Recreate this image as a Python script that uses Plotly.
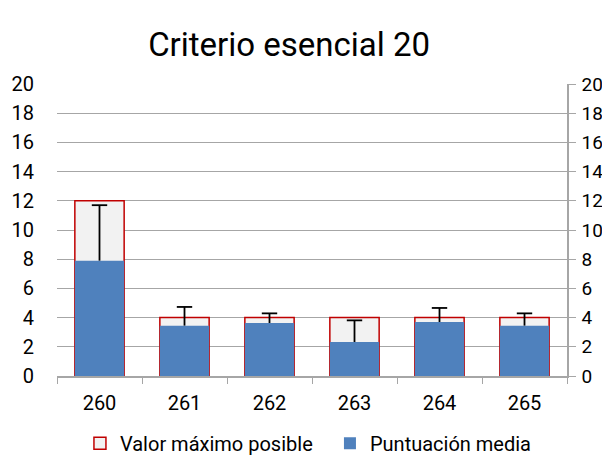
import plotly.graph_objects as go

categories = ["260", "261", "262", "263", "264", "265"]
max_values = [12, 4, 4, 4, 4, 4]
mean_values = [7.9, 3.45, 3.63, 2.33, 3.7, 3.45]
error_top = [11.7, 4.73, 4.29, 3.81, 4.66, 4.29]
y_ticks = [0, 2, 4, 6, 8, 10, 12, 14, 16, 18, 20]

FONT = "Roboto, sans-serif"
err_plus = [t - m for t, m in zip(error_top, mean_values)]

fig = go.Figure()
fig.add_trace(go.Bar(
    x=categories, y=max_values, name="Valor máximo posible",
    marker=dict(color="#f2f2f2", line=dict(color="#c00000", width=1.5)),
    width=0.58,
))
fig.add_trace(go.Bar(
    x=categories, y=mean_values, name="Puntuación media",
    marker=dict(color="#4f81bd", line=dict(width=0)),
    width=0.58,
    error_y=dict(type="data", symmetric=False, array=err_plus,
                 arrayminus=[0] * len(err_plus), color="black", thickness=1.8, width=0),
))
fig.add_trace(go.Scatter(
    x=categories, y=error_top, mode="markers", yaxis="y2", showlegend=False,
    marker=dict(symbol="line-ew", size=11, line=dict(color="black", width=1.8)),
    hoverinfo="skip",
))

fig.update_layout(
    width=602, height=455,
    margin=dict(l=49, r=43, t=76, b=87, autoexpand=False),
    paper_bgcolor="white", plot_bgcolor="white",
    barmode="overlay",
    font=dict(family=FONT, color="black", size=20),
    title=dict(text="Criterio esencial 20", x=0.467, xanchor="center", y=0.919, yanchor="middle",
               font=dict(family=FONT, size=33, color="black")),
    showlegend=True,
    legend=dict(orientation="h", x=0.045, xanchor="left", y=-0.297, yanchor="bottom",
                font=dict(family=FONT, size=20), itemwidth=30, traceorder="normal",
                tracegroupgap=0, entrywidth=205, entrywidthmode="pixels"),
    xaxis=dict(showgrid=False, showline=True, linecolor="#a6a6a6", linewidth=1.5,
               ticks="outside", tickson="boundaries", ticklen=6, tickcolor="#a6a6a6",
               ticklabelstandoff=8, tickfont=dict(size=20), automargin=False),
    yaxis=dict(range=[0, 20], tickvals=y_ticks, showgrid=True, gridcolor="#a6a6a6",
               gridwidth=1.2, showline=False, zeroline=False, ticks="",
               ticklabelstandoff=22, tickfont=dict(size=20), automargin=False),
    yaxis2=dict(range=[0, 20], tickvals=y_ticks, overlaying="y", side="right",
                showgrid=False, showline=True, linecolor="#a6a6a6", linewidth=1.5,
                ticks="outside", ticklen=7, tickcolor="#a6a6a6", zeroline=False,
                ticklabelstandoff=2, tickfont=dict(size=19), automargin=False),
)

fig.write_html("out.html")
